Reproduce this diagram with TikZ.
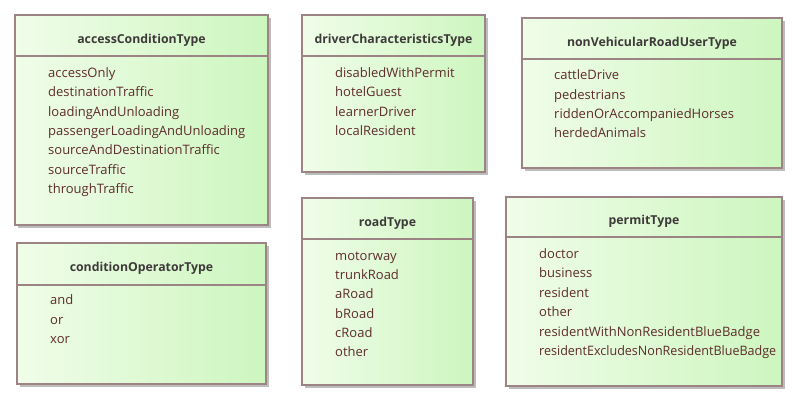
\documentclass[tikz,border=0pt]{standalone}
\usepackage{fontspec}
\setmainfont{Open Sans}
\definecolor{boxborder}{HTML}{9C8484}
\definecolor{itemtext}{HTML}{5E2C2C}
\definecolor{titletext}{HTML}{3E3A3A}
\definecolor{fillL}{HTML}{F0FDE9}
\definecolor{fillR}{HTML}{CDF6BF}
\definecolor{shadowc}{HTML}{BDBDBD}
\tikzset{
  shadowbox/.style={fill=shadowc, draw=none},
  classbody/.style={left color=fillL, right color=fillR, draw=boxborder, line width=1.2pt},
  sepline/.style={draw=boxborder, line width=1.2pt},
  title/.style={font=\fontsize{12.3pt}{14pt}\selectfont\bfseries, text=titletext, inner sep=0pt, anchor=center},
  item/.style={font=\fontsize{13pt}{15pt}\selectfont, text=itemtext, inner sep=0pt, anchor=mid west},
}
\newcommand{\umlbox}[6]{% name, left, top, right, bottom, sep
  \fill[shadowbox] (#2+3,#3+3) rectangle (#4+3,#5+3);
  \path[classbody] (#2,#3) rectangle (#4,#5);
  \draw[sepline] (#2,#6) -- (#4,#6);
  \coordinate (#1-nw) at (#2,#3);
  \coordinate (#1-se) at (#4,#5);
}
\begin{document}
\begin{tikzpicture}[x=1pt,y=-1pt]
\useasboundingbox (0,0) rectangle (798,402);

% accessConditionType
\umlbox{acc}{15}{15}{268}{225}{56}
\node[title] (acct) at (141.5,40) {accessConditionType};
\node[item] (acc1) at (48,74.5) {accessOnly};
\node[item] (acc2) at (48,94) {destinationTraffic};
\node[item] (acc3) at (48,113.5) {loadingAndUnloading};
\node[item] (acc4) at (48,133) {passengerLoadingAndUnloading};
\node[item] (acc5) at (48,152) {sourceAndDestinationTraffic};
\node[item] (acc6) at (48,171.5) {sourceTraffic};
\node[item] (acc7) at (48,191) {throughTraffic};

% driverCharacteristicsType
\umlbox{drv}{302}{15}{485}{172}{56}
\node[title] (drvt) at (393.5,40) {driverCharacteristicsType};
\node[item] (drv1) at (335,74.5) {disabledWithPermit};
\node[item] (drv2) at (335,94) {hotelGuest};
\node[item] (drv3) at (335,113.5) {learnerDriver};
\node[item] (drv4) at (335,133) {localResident};

% nonVehicularRoadUserType
\umlbox{nvr}{522}{18}{782}{168}{59}
\node[title] (nvrt) at (652,43) {nonVehicularRoadUserType};
\node[item] (nvr1) at (554,77) {cattleDrive};
\node[item] (nvr2) at (554,96.5) {pedestrians};
\node[item] (nvr3) at (554,116) {riddenOrAccompaniedHorses};
\node[item] (nvr4) at (554,135) {herdedAnimals};

% conditionOperatorType
\umlbox{cop}{17}{243}{266}{384}{285}
\node[title] (copt) at (141.5,268) {conditionOperatorType};
\node[item] (cop1) at (50,302) {and};
\node[item] (cop2) at (50,321.5) {or};
\node[item] (cop3) at (50,341) {xor};

% roadType
\umlbox{rd}{302}{198}{473}{385}{239}
\node[title] (rdt) at (387.5,223) {roadType};
\node[item] (rd1) at (335,257.5) {motorway};
\node[item] (rd2) at (335,276.5) {trunkRoad};
\node[item] (rd3) at (335,296) {aRoad};
\node[item] (rd4) at (335,315.5) {bRoad};
\node[item] (rd5) at (335,335) {cRoad};
\node[item] (rd6) at (335,354) {other};

% permitType
\umlbox{pm}{506}{197}{782}{386}{237}
\node[title] (pmt) at (644,221) {permitType};
\node[item] (pm1) at (539,255.5) {doctor};
\node[item] (pm2) at (539,275) {business};
\node[item] (pm3) at (539,294.5) {resident};
\node[item] (pm4) at (539,314) {other};
\node[item] (pm5) at (539,333.5) {residentWithNonResidentBlueBadge};
\node[item, xscale=0.965] (pm6) at (539,353) {residentExcludesNonResidentBlueBadge};
\end{tikzpicture}
\end{document}
